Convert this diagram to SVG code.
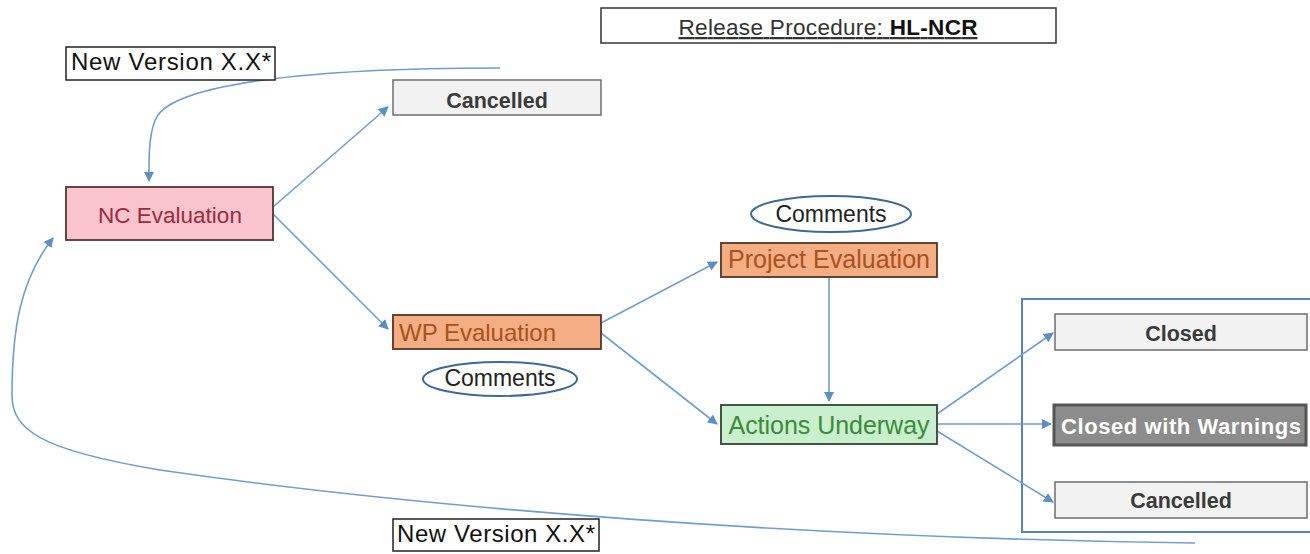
<svg xmlns="http://www.w3.org/2000/svg" width="1310" height="554" viewBox="0 0 1310 554">
<defs>
<marker id="arr" viewBox="0 0 10 10" refX="9" refY="5" markerWidth="10" markerHeight="10" markerUnits="userSpaceOnUse" orient="auto">
<path d="M0,0 L10,5 L0,10 z" fill="#5b8fc7"/>
</marker>
<style>
text{font-family:"Liberation Sans",Arial,sans-serif;}
.lbl{font-size:24px;fill:#111;}
.gray rect{fill:#f2f2f2;stroke:#6e6e6e;stroke-width:1.5;}
.gray text{font-size:21.5px;font-weight:bold;fill:#3a3a3a;text-anchor:middle;}
.conn path, .conn line{stroke:#6f9fce;stroke-width:1.6;fill:none;marker-end:url(#arr);}
.ell ellipse{fill:#fff;stroke:#3f6a94;stroke-width:2;}
.ell text{font-size:23px;fill:#222;text-anchor:middle;}
</style>
</defs>
<rect width="1310" height="554" fill="#fff"/>

<g id="title">
<rect x="601" y="8" width="455" height="35" fill="#fff" stroke="#333" stroke-width="1.5"/>
<text x="828" y="35" font-size="22.5" fill="#333" text-anchor="middle" text-decoration="underline" textLength="299">Release Procedure: <tspan font-weight="bold" fill="#111">HL-NCR</tspan></text>
</g>

<g id="container">
<rect x="1022" y="299" width="300" height="233" fill="none" stroke="#5585bb" stroke-width="2"/>
</g>

<g class="conn" id="connectors">
<line x1="273" y1="207" x2="388" y2="107"/>
<line x1="273" y1="214" x2="388" y2="329"/>
<line x1="601" y1="323" x2="717" y2="262"/>
<line x1="601" y1="333" x2="717" y2="424"/>
<line x1="829" y1="277" x2="829" y2="401"/>
<line x1="937" y1="414" x2="1053" y2="333"/>
<line x1="937" y1="424" x2="1051" y2="424"/>
<line x1="937" y1="431" x2="1053" y2="502"/>
<path d="M500,68 C300,68 180,85 158,115 C148,130 149,160 149,181"/>
<path d="M1195,543 C800,538 420,508 160,470 C40,450 12,430 12,395 C12,330 20,280 53,238"/>
</g>

<g id="newver-top">
<rect x="66" y="47" width="209" height="33" fill="#fff" stroke="#222" stroke-width="1.5"/>
<text class="lbl" x="171" y="70" text-anchor="middle" textLength="200">New Version X.X*</text>
</g>

<g id="cancelled-top" class="gray">
<rect x="393" y="80" width="208" height="35"/>
<text x="497" y="108">Cancelled</text>
</g>

<g id="nc-eval">
<rect x="66" y="187" width="207" height="53" fill="#f9c4cc" stroke="#553333" stroke-width="1.8"/>
<text x="170" y="223" font-size="22.5" fill="#9e2a3c" text-anchor="middle">NC Evaluation</text>
</g>

<g id="wp-eval">
<rect x="393" y="315" width="208" height="34" fill="#f5ad84" stroke="#553322" stroke-width="1.8"/>
<text x="399" y="341" font-size="24" fill="#a6531f" textLength="157">WP Evaluation</text>
</g>

<g id="comments-wp" class="ell">
<ellipse cx="500" cy="379" rx="77" ry="17"/>
<text x="500" y="386">Comments</text>
</g>

<g id="comments-proj" class="ell">
<ellipse cx="831" cy="214" rx="80" ry="18"/>
<text x="831" y="222">Comments</text>
</g>

<g id="proj-eval">
<rect x="721" y="243" width="216" height="34" fill="#f5ad84" stroke="#553322" stroke-width="1.8"/>
<text x="829" y="268" font-size="25" fill="#a6531f" text-anchor="middle" textLength="202">Project Evaluation</text>
</g>

<g id="actions">
<rect x="721" y="405" width="216" height="39" fill="#c9efcc" stroke="#334433" stroke-width="1.8"/>
<text x="829" y="434" font-size="25" fill="#3c8a3c" text-anchor="middle" textLength="201">Actions Underway</text>
</g>

<g id="closed" class="gray">
<rect x="1055" y="314" width="252" height="36"/>
<text x="1181" y="341">Closed</text>
</g>

<g id="closed-warn">
<rect x="1054" y="405" width="252" height="40" fill="#8c8c8c" stroke="#555" stroke-width="3"/>
<text x="1181" y="434" font-size="22" font-weight="bold" fill="#fff" text-anchor="middle" textLength="240">Closed with Warnings</text>
</g>

<g id="cancelled-bottom" class="gray">
<rect x="1055" y="482" width="252" height="36"/>
<text x="1181" y="508">Cancelled</text>
</g>

<g id="newver-bottom">
<rect x="393" y="519" width="206" height="32" fill="#fff" stroke="#222" stroke-width="1.5"/>
<text class="lbl" x="496" y="542" text-anchor="middle" textLength="198">New Version X.X*</text>
</g>
</svg>
